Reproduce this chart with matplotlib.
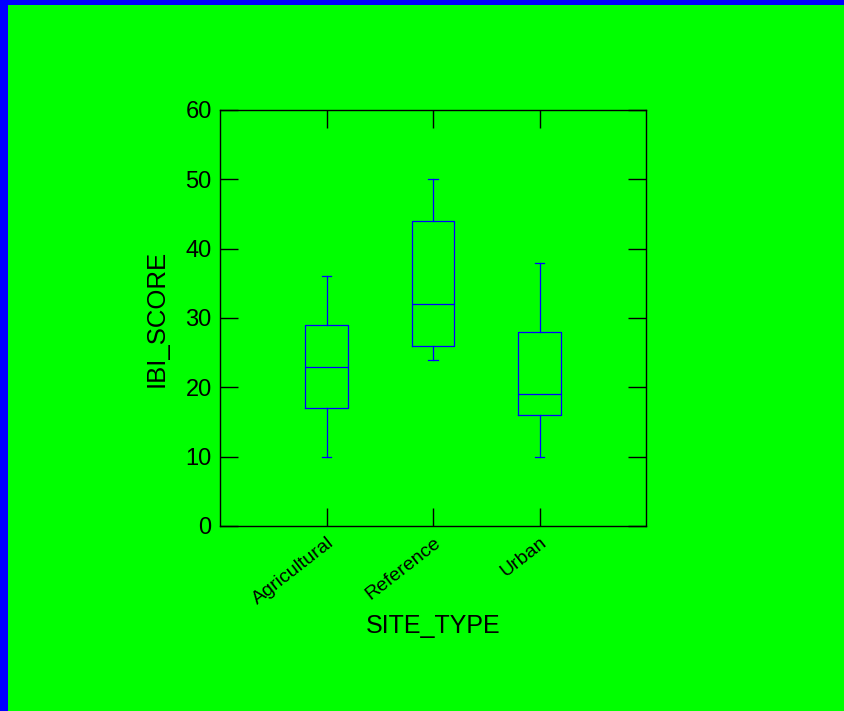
import matplotlib
matplotlib.use("Agg")
import matplotlib.pyplot as plt
from matplotlib.patches import Rectangle

plt.rcParams['font.family'] = ['Liberation Sans', 'DejaVu Sans']

# IBI score summary by site type
categories = ["Agricultural", "Reference", "Urban"]
whisker_low = [10, 24, 10]
q1 = [17, 26, 16]
medians = [23, 32, 19]
q3 = [29, 44, 28]
whisker_high = [36, 50, 38]

yticks = [0, 10, 20, 30, 40, 50, 60]

W, H = 844, 711
fig = plt.figure(figsize=(W / 100, H / 100), dpi=100)
fig.patch.set_facecolor("#00FF00")

# blue frame strips along the left and top edges
fig.patches.append(Rectangle((0, 0), 8 / W, 1, transform=fig.transFigure,
                             facecolor="#0000FF", edgecolor="none", zorder=0))
fig.patches.append(Rectangle((0, 1 - 5 / H), 1, 5 / H, transform=fig.transFigure,
                             facecolor="#0000FF", edgecolor="none", zorder=0))

left, right, top, bottom = 220, 646, 110, 526
ax = fig.add_axes([left / W, 1 - bottom / H, (right - left) / W, (bottom - top) / H])
ax.set_facecolor("#00FF00")

stats = []
for i, name in enumerate(categories):
    stats.append(dict(label=name, whislo=whisker_low[i], q1=q1[i], med=medians[i],
                      q3=q3[i], whishi=whisker_high[i], fliers=[]))

blue = "#0000FF"
lw = 0.9
ax.bxp(stats, positions=[1, 2, 3], widths=0.4, showfliers=False,
       boxprops=dict(color=blue, linewidth=lw),
       medianprops=dict(color=blue, linewidth=lw),
       whiskerprops=dict(color=blue, linewidth=lw),
       capprops=dict(color=blue, linewidth=lw),
       capwidths=0.09)

ax.set_xlim(0, 4)
ax.set_ylim(0, 60)
ax.set_yticks(yticks)
ax.set_yticklabels([str(v) for v in yticks], fontsize=17)
ax.set_xticks([1, 2, 3])
ax.set_xticklabels(categories, fontsize=14, rotation=38, ha='right',
                   rotation_mode='anchor')

for s in ax.spines.values():
    s.set_color("black")
    s.set_linewidth(1.0)

ax.tick_params(axis='both', direction='in', length=13, width=1.0, color='black',
               top=True, right=True)
ax.tick_params(axis='y', pad=6)
ax.tick_params(axis='x', pad=6)

ax.set_ylabel("IBI_SCORE", fontsize=18.5, labelpad=12)
ax.set_xlabel("SITE_TYPE", fontsize=18, labelpad=4)

fig.savefig("out.png", dpi=100, facecolor=fig.get_facecolor())
